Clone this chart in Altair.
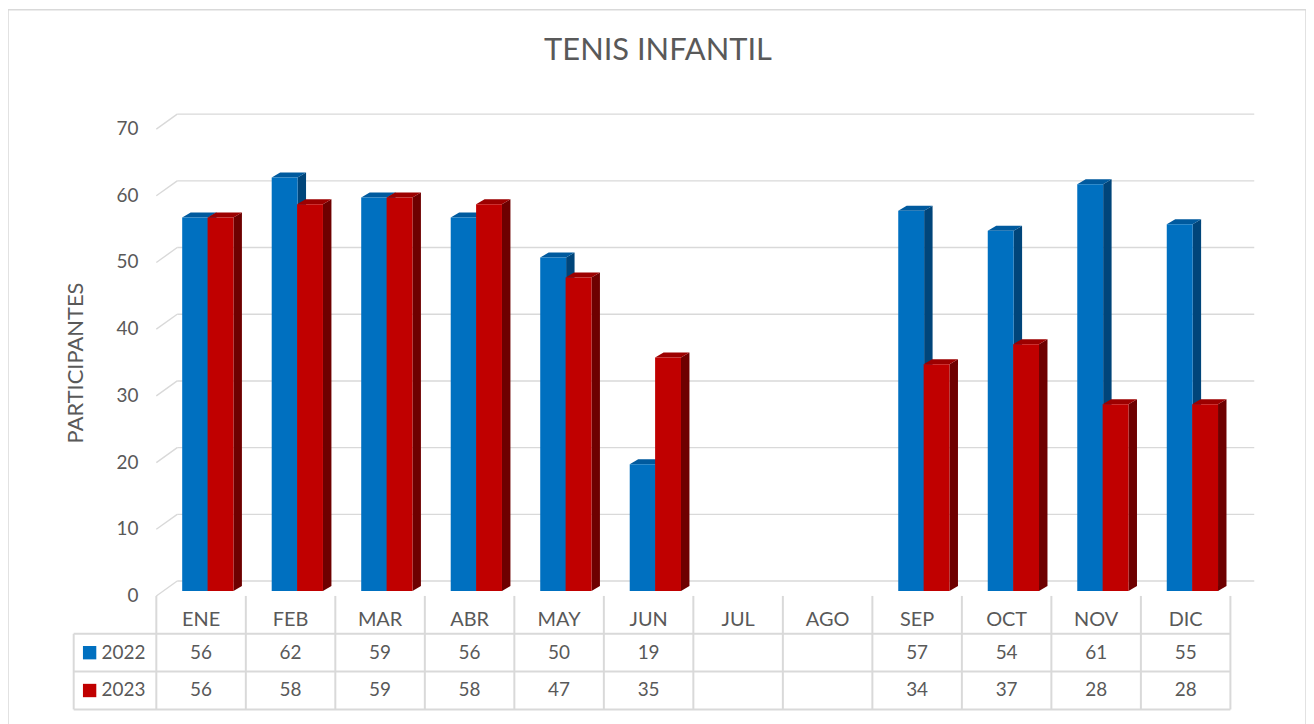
import altair as alt
import pandas as pd

# ---------------- data ----------------
MONTHS = ["ENE", "FEB", "MAR", "ABR", "MAY", "JUN", "JUL", "AGO", "SEP", "OCT", "NOV", "DIC"]
V2022 = [56, 62, 59, 56, 50, 19, None, None, 57, 54, 61, 55]
V2023 = [56, 58, 59, 58, 47, 35, None, None, 34, 37, 28, 28]
SERIES = ["2022", "2023"]
TICKS = [0, 10, 20, 30, 40, 50, 60, 70]
TITLE = "TENIS INFANTIL"
YTITLE = "PARTICIPANTES"

# ---------------- layout (pixels of the page) ----------------
W, H = 1304, 720          # whole canvas (view) size
ORIG_X, ORIG_Y = 8, 8     # page margin
CAT0 = 157                # left edge of first month column
CW = 89.92                # month column width
BASE = 592                # bar baseline
YS = 6.7                  # pixels per unit
DX, DY = 8.5, 5           # bar depth
GDX, GDY = 21, 15         # wall depth (gridlines)
FONT = "Lato"
GREY = "#595959"
LINE = "#d9d9d9"

def ux(p):
    return (p - CAT0) / CW

def uy(p):
    return (BASE - p) / YS

XDOM = [ux(ORIG_X), ux(ORIG_X + W)]
YDOM = [uy(ORIG_Y + H), uy(ORIG_Y)]
xs = alt.Scale(domain=XDOM, nice=False, zero=False)
ys = alt.Scale(domain=YDOM, nice=False, zero=False)

COLORS = {
    "2022": ("#0070C0", "#005A9E", "#00457A"),
    "2023": ("#C00000", "#9C0000", "#6E0000"),
}
BAR_L = {"2022": 26 / CW, "2023": 51.5 / CW}
BAR_W = 26 / CW
dxu = DX / CW
dyu = DY / YS

layers = []

# gridlines on back wall + diagonal connectors
grid = pd.DataFrame({"t": TICKS})
grid["x1"] = ux(CAT0 + GDX)
grid["x2"] = ux(1260)
grid["yb"] = grid["t"] + 10 / YS     # back wall 10px above bar scale
grid["yf"] = grid["t"] - 5 / YS      # front edge 5px below bar scale
grid["xf"] = ux(CAT0)
layers.append(alt.Chart(grid).mark_rule(color=LINE, strokeWidth=1.4).encode(
    x=alt.X("x1:Q", scale=xs, axis=None), x2="x2:Q",
    y=alt.Y("yb:Q", scale=ys, axis=None)))
layers.append(alt.Chart(grid).mark_rule(color=LINE, strokeWidth=1.4).encode(
    x=alt.X("xf:Q", scale=xs, axis=None), x2="x1:Q",
    y=alt.Y("yf:Q", scale=ys, axis=None), y2="yb:Q"))

# y tick labels
layers.append(alt.Chart(grid).mark_text(align="right", baseline="middle", font=FONT,
                                         fontSize=19, color=GREY, yOffset=5).encode(
    x=alt.X("xl:Q", scale=xs, axis=None),
    y=alt.Y("t:Q", scale=ys, axis=None),
    text="t:Q").transform_calculate(xl=str(ux(139))))

# bars (3D look: side, top, front)
for s, vals in zip(SERIES, [V2022, V2023]):
    front, side, top = [], [], []
    for i, (m, v) in enumerate(zip(MONTHS, vals)):
        if v is None:
            continue
        xl = i + BAR_L[s]
        xr = xl + BAR_W
        front.append({"m": m, "x1": xl, "x2": xr, "y1": 0, "y2": v})
        side += [{"id": m, "x": xr, "lo": 0, "hi": v},
                 {"id": m, "x": xr + dxu, "lo": dyu, "hi": v + dyu}]
        top += [{"id": m, "x": xl, "lo": v, "hi": v},
                {"id": m, "x": xl + dxu, "lo": v, "hi": v + dyu},
                {"id": m, "x": xr, "lo": v, "hi": v + dyu},
                {"id": m, "x": xr + dxu, "lo": v + dyu, "hi": v + dyu}]
    cf, ct, cs = COLORS[s]
    layers.append(alt.Chart(pd.DataFrame(side)).mark_area(color=cs, opacity=1).encode(
        x=alt.X("x:Q", scale=xs, axis=None), y=alt.Y("lo:Q", scale=ys, axis=None),
        y2="hi:Q", detail="id:N"))
    layers.append(alt.Chart(pd.DataFrame(top)).mark_area(color=ct, opacity=1).encode(
        x=alt.X("x:Q", scale=xs, axis=None), y=alt.Y("lo:Q", scale=ys, axis=None),
        y2="hi:Q", detail="id:N"))
    layers.append(alt.Chart(pd.DataFrame(front)).mark_bar(color=cf, opacity=1).encode(
        x=alt.X("x1:Q", scale=xs, axis=None), x2="x2:Q",
        y=alt.Y("y1:Q", scale=ys, axis=None), y2="y2:Q"))

# ---------------- data table ----------------
ROW_TOP = [597, 635, 673, 711]
LEG_L = 74
vlines = pd.DataFrame({"k": list(range(len(MONTHS) + 1))})
vlines["x"] = vlines["k"].astype(float)
vlines["y1"] = uy(ROW_TOP[0])
vlines["y2"] = uy(ROW_TOP[3])
leg_v = pd.DataFrame({"x": [ux(LEG_L)], "y1": [uy(ROW_TOP[1])], "y2": [uy(ROW_TOP[3])]})
hlines = pd.DataFrame({"y": [uy(r) for r in ROW_TOP[1:]]})
hlines["x1"] = ux(LEG_L)
hlines["x2"] = float(len(MONTHS))
for df in (vlines, leg_v):
    layers.append(alt.Chart(df).mark_rule(color=LINE, strokeWidth=2).encode(
        x=alt.X("x:Q", scale=xs, axis=None),
        y=alt.Y("y1:Q", scale=ys, axis=None), y2="y2:Q"))
layers.append(alt.Chart(hlines).mark_rule(color=LINE, strokeWidth=2).encode(
    x=alt.X("x1:Q", scale=xs, axis=None), x2="x2:Q",
    y=alt.Y("y:Q", scale=ys, axis=None)))

heads, cells = [], []
for i, m in enumerate(MONTHS):
    heads.append({"x": i + 0.5, "y": uy(621), "txt": m})
    for s, vals, yc in zip(SERIES, [V2022, V2023], [654, 692]):
        if vals[i] is not None:
            cells.append({"x": i + 0.5, "y": uy(yc), "txt": str(vals[i])})
layers.append(alt.Chart(pd.DataFrame(heads)).mark_text(
    align="center", baseline="middle", font=FONT, fontSize=20, color=GREY).encode(
    x=alt.X("x:Q", scale=xs, axis=None), y=alt.Y("y:Q", scale=ys, axis=None), text="txt:N"))
layers.append(alt.Chart(pd.DataFrame(cells)).mark_text(
    align="center", baseline="middle", font=FONT, fontSize=19, color=GREY).encode(
    x=alt.X("x:Q", scale=xs, axis=None), y=alt.Y("y:Q", scale=ys, axis=None), text="txt:N"))

leg = pd.DataFrame({"s": SERIES, "yc": [uy(654), uy(692)]})
leg["xs"] = ux(90)
leg["xt"] = ux(102)
layers.append(alt.Chart(leg).mark_point(shape="square", filled=True, size=180, opacity=1).encode(
    x=alt.X("xs:Q", scale=xs, axis=None), y=alt.Y("yc:Q", scale=ys, axis=None),
    color=alt.Color("s:N", scale=alt.Scale(domain=SERIES,
                                           range=[COLORS[s][0] for s in SERIES]), legend=None)))
layers.append(alt.Chart(leg).mark_text(align="left", baseline="middle", font=FONT,
                                        fontSize=19, color=GREY).encode(
    x=alt.X("xt:Q", scale=xs, axis=None), y=alt.Y("yc:Q", scale=ys, axis=None), text="s:N"))

# titles
ttl = pd.DataFrame({"txt": [TITLE], "x": [ux(661)], "y": [uy(50)]})
layers.append(alt.Chart(ttl).mark_text(align="center", baseline="middle", font=FONT,
                                        fontSize=31, color=GREY).encode(
    x=alt.X("x:Q", scale=xs, axis=None), y=alt.Y("y:Q", scale=ys, axis=None), text="txt:N"))
yt = pd.DataFrame({"txt": [YTITLE], "x": [ux(76)], "y": [uy(363)]})
layers.append(alt.Chart(yt).mark_text(align="center", baseline="middle", font=FONT,
                                       fontSize=22, color=GREY, angle=270).encode(
    x=alt.X("x:Q", scale=xs, axis=None), y=alt.Y("y:Q", scale=ys, axis=None), text="txt:N"))

chart = alt.layer(*layers).properties(
    width=W, height=H, padding=0, autosize=alt.AutoSizeParams(type="none"),
    background="white",
).configure_view(stroke=LINE, strokeWidth=1.5)

chart.save("out.html", embed_options={"renderer": "svg", "actions": False})
